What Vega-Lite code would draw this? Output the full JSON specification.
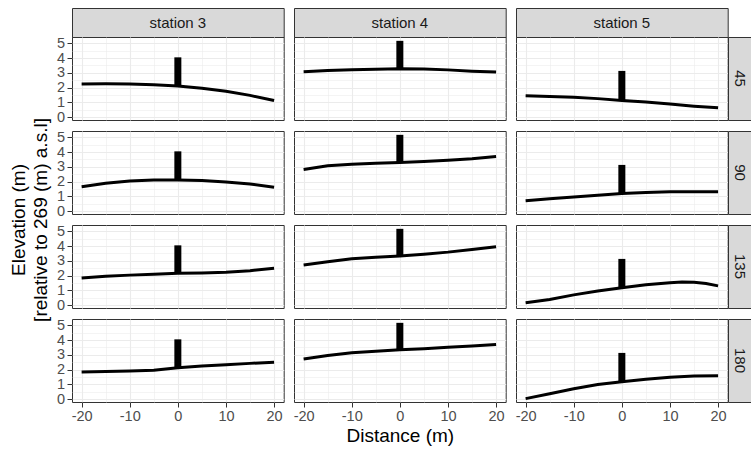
{
  "$schema": "https://vega.github.io/schema/vega-lite/v6.json",
  "padding": {"left": 8, "top": 7, "right": 0, "bottom": 0},
  "background": "#FFFFFF",
  "config": {
    "font": "Liberation Sans",
    "view": {"stroke": "#333333", "strokeWidth": 1},
    "axis": {
      "grid": true, "gridColor": "#EBEBEB", "domain": false,
      "tickColor": "#333333", "tickSize": 5, "tickWidth": 1,
      "labelColor": "#4D4D4D", "labelFontSize": 14.5, "labelPadding": 2.5,
      "labelFlush": false,
      "titleFontSize": 19, "titleFontWeight": "normal", "titleColor": "#000000", "titlePadding": 3
    }
  },
  "datasets": {
    "profiles": [
      {"station": "station 3", "angle": 45, "dist": -20, "elev": 2.25},
      {"station": "station 3", "angle": 45, "dist": -15, "elev": 2.26},
      {"station": "station 3", "angle": 45, "dist": -10, "elev": 2.24},
      {"station": "station 3", "angle": 45, "dist": -5, "elev": 2.19},
      {"station": "station 3", "angle": 45, "dist": 0, "elev": 2.11},
      {"station": "station 3", "angle": 45, "dist": 5, "elev": 1.96},
      {"station": "station 3", "angle": 45, "dist": 10, "elev": 1.75},
      {"station": "station 3", "angle": 45, "dist": 15, "elev": 1.47},
      {"station": "station 3", "angle": 45, "dist": 20, "elev": 1.12},
      {"station": "station 4", "angle": 45, "dist": -20, "elev": 3.07},
      {"station": "station 4", "angle": 45, "dist": -15, "elev": 3.16},
      {"station": "station 4", "angle": 45, "dist": -10, "elev": 3.21},
      {"station": "station 4", "angle": 45, "dist": -5, "elev": 3.25},
      {"station": "station 4", "angle": 45, "dist": 0, "elev": 3.28},
      {"station": "station 4", "angle": 45, "dist": 5, "elev": 3.26},
      {"station": "station 4", "angle": 45, "dist": 10, "elev": 3.2},
      {"station": "station 4", "angle": 45, "dist": 15, "elev": 3.11},
      {"station": "station 4", "angle": 45, "dist": 20, "elev": 3.05},
      {"station": "station 5", "angle": 45, "dist": -20, "elev": 1.44},
      {"station": "station 5", "angle": 45, "dist": -15, "elev": 1.39},
      {"station": "station 5", "angle": 45, "dist": -10, "elev": 1.34},
      {"station": "station 5", "angle": 45, "dist": -5, "elev": 1.25},
      {"station": "station 5", "angle": 45, "dist": 0, "elev": 1.12},
      {"station": "station 5", "angle": 45, "dist": 5, "elev": 1.02},
      {"station": "station 5", "angle": 45, "dist": 10, "elev": 0.88},
      {"station": "station 5", "angle": 45, "dist": 15, "elev": 0.74},
      {"station": "station 5", "angle": 45, "dist": 20, "elev": 0.63},
      {"station": "station 3", "angle": 90, "dist": -20, "elev": 1.65},
      {"station": "station 3", "angle": 90, "dist": -15, "elev": 1.88},
      {"station": "station 3", "angle": 90, "dist": -10, "elev": 2.04},
      {"station": "station 3", "angle": 90, "dist": -5, "elev": 2.11},
      {"station": "station 3", "angle": 90, "dist": 0, "elev": 2.11},
      {"station": "station 3", "angle": 90, "dist": 5, "elev": 2.07},
      {"station": "station 3", "angle": 90, "dist": 10, "elev": 1.97},
      {"station": "station 3", "angle": 90, "dist": 15, "elev": 1.84},
      {"station": "station 3", "angle": 90, "dist": 20, "elev": 1.62},
      {"station": "station 4", "angle": 90, "dist": -20, "elev": 2.82},
      {"station": "station 4", "angle": 90, "dist": -15, "elev": 3.07},
      {"station": "station 4", "angle": 90, "dist": -10, "elev": 3.18},
      {"station": "station 4", "angle": 90, "dist": -5, "elev": 3.24},
      {"station": "station 4", "angle": 90, "dist": 0, "elev": 3.3},
      {"station": "station 4", "angle": 90, "dist": 5, "elev": 3.36},
      {"station": "station 4", "angle": 90, "dist": 10, "elev": 3.45},
      {"station": "station 4", "angle": 90, "dist": 15, "elev": 3.54},
      {"station": "station 4", "angle": 90, "dist": 20, "elev": 3.7},
      {"station": "station 5", "angle": 90, "dist": -20, "elev": 0.7},
      {"station": "station 5", "angle": 90, "dist": -15, "elev": 0.84},
      {"station": "station 5", "angle": 90, "dist": -10, "elev": 0.96},
      {"station": "station 5", "angle": 90, "dist": -5, "elev": 1.08},
      {"station": "station 5", "angle": 90, "dist": 0, "elev": 1.19},
      {"station": "station 5", "angle": 90, "dist": 5, "elev": 1.26},
      {"station": "station 5", "angle": 90, "dist": 10, "elev": 1.31},
      {"station": "station 5", "angle": 90, "dist": 15, "elev": 1.31},
      {"station": "station 5", "angle": 90, "dist": 20, "elev": 1.31},
      {"station": "station 3", "angle": 135, "dist": -20, "elev": 1.83},
      {"station": "station 3", "angle": 135, "dist": -15, "elev": 1.95},
      {"station": "station 3", "angle": 135, "dist": -10, "elev": 2.03},
      {"station": "station 3", "angle": 135, "dist": -5, "elev": 2.09},
      {"station": "station 3", "angle": 135, "dist": 0, "elev": 2.15},
      {"station": "station 3", "angle": 135, "dist": 5, "elev": 2.18},
      {"station": "station 3", "angle": 135, "dist": 10, "elev": 2.23},
      {"station": "station 3", "angle": 135, "dist": 15, "elev": 2.33},
      {"station": "station 3", "angle": 135, "dist": 20, "elev": 2.5},
      {"station": "station 4", "angle": 135, "dist": -20, "elev": 2.72},
      {"station": "station 4", "angle": 135, "dist": -15, "elev": 2.93},
      {"station": "station 4", "angle": 135, "dist": -10, "elev": 3.14},
      {"station": "station 4", "angle": 135, "dist": -5, "elev": 3.24},
      {"station": "station 4", "angle": 135, "dist": 0, "elev": 3.33},
      {"station": "station 4", "angle": 135, "dist": 5, "elev": 3.45},
      {"station": "station 4", "angle": 135, "dist": 10, "elev": 3.59},
      {"station": "station 4", "angle": 135, "dist": 15, "elev": 3.77},
      {"station": "station 4", "angle": 135, "dist": 20, "elev": 3.96},
      {"station": "station 5", "angle": 135, "dist": -20, "elev": 0.16},
      {"station": "station 5", "angle": 135, "dist": -15, "elev": 0.38},
      {"station": "station 5", "angle": 135, "dist": -10, "elev": 0.69},
      {"station": "station 5", "angle": 135, "dist": -5, "elev": 0.95},
      {"station": "station 5", "angle": 135, "dist": 0, "elev": 1.17},
      {"station": "station 5", "angle": 135, "dist": 5, "elev": 1.37},
      {"station": "station 5", "angle": 135, "dist": 10, "elev": 1.52},
      {"station": "station 5", "angle": 135, "dist": 12.5, "elev": 1.56},
      {"station": "station 5", "angle": 135, "dist": 15, "elev": 1.54},
      {"station": "station 5", "angle": 135, "dist": 17.5, "elev": 1.46},
      {"station": "station 5", "angle": 135, "dist": 20, "elev": 1.3},
      {"station": "station 3", "angle": 180, "dist": -20, "elev": 1.83},
      {"station": "station 3", "angle": 180, "dist": -15, "elev": 1.87},
      {"station": "station 3", "angle": 180, "dist": -10, "elev": 1.9},
      {"station": "station 3", "angle": 180, "dist": -5, "elev": 1.96},
      {"station": "station 3", "angle": 180, "dist": 0, "elev": 2.13},
      {"station": "station 3", "angle": 180, "dist": 5, "elev": 2.24},
      {"station": "station 3", "angle": 180, "dist": 10, "elev": 2.33},
      {"station": "station 3", "angle": 180, "dist": 15, "elev": 2.42},
      {"station": "station 3", "angle": 180, "dist": 20, "elev": 2.5},
      {"station": "station 4", "angle": 180, "dist": -20, "elev": 2.72},
      {"station": "station 4", "angle": 180, "dist": -15, "elev": 2.95},
      {"station": "station 4", "angle": 180, "dist": -10, "elev": 3.14},
      {"station": "station 4", "angle": 180, "dist": -5, "elev": 3.24},
      {"station": "station 4", "angle": 180, "dist": 0, "elev": 3.35},
      {"station": "station 4", "angle": 180, "dist": 5, "elev": 3.42},
      {"station": "station 4", "angle": 180, "dist": 10, "elev": 3.51},
      {"station": "station 4", "angle": 180, "dist": 15, "elev": 3.6},
      {"station": "station 4", "angle": 180, "dist": 20, "elev": 3.7},
      {"station": "station 5", "angle": 180, "dist": -20, "elev": 0.03},
      {"station": "station 5", "angle": 180, "dist": -15, "elev": 0.36},
      {"station": "station 5", "angle": 180, "dist": -10, "elev": 0.7},
      {"station": "station 5", "angle": 180, "dist": -5, "elev": 0.98},
      {"station": "station 5", "angle": 180, "dist": 0, "elev": 1.17},
      {"station": "station 5", "angle": 180, "dist": 5, "elev": 1.35},
      {"station": "station 5", "angle": 180, "dist": 10, "elev": 1.48},
      {"station": "station 5", "angle": 180, "dist": 15, "elev": 1.57},
      {"station": "station 5", "angle": 180, "dist": 20, "elev": 1.58},
      {"station": "station 3", "angle": 45, "dist": 0, "elev": 2.11, "top": 4.05},
      {"station": "station 4", "angle": 45, "dist": 0, "elev": 3.28, "top": 5.17},
      {"station": "station 5", "angle": 45, "dist": 0, "elev": 1.12, "top": 3.13},
      {"station": "station 3", "angle": 90, "dist": 0, "elev": 2.11, "top": 4.05},
      {"station": "station 4", "angle": 90, "dist": 0, "elev": 3.3, "top": 5.17},
      {"station": "station 5", "angle": 90, "dist": 0, "elev": 1.19, "top": 3.13},
      {"station": "station 3", "angle": 135, "dist": 0, "elev": 2.15, "top": 4.05},
      {"station": "station 4", "angle": 135, "dist": 0, "elev": 3.33, "top": 5.17},
      {"station": "station 5", "angle": 135, "dist": 0, "elev": 1.17, "top": 3.13},
      {"station": "station 3", "angle": 180, "dist": 0, "elev": 2.13, "top": 4.05},
      {"station": "station 4", "angle": 180, "dist": 0, "elev": 3.35, "top": 5.17},
      {"station": "station 5", "angle": 180, "dist": 0, "elev": 1.17, "top": 3.13}
    ]
  },
  "columns": 6,
  "spacing": 0,
  "bounds": "flush",
  "concat": [
    {"width": 211.7, "height": 29, "data": {"values": [{"label": "station 3"}]}, "view": {"fill": "#D9D9D9", "stroke": "#333333"}, "mark": {"type": "text", "fontSize": 15, "color": "#1A1A1A"}, "encoding": {"text": {"field": "label"}}},
    {"width": 10, "height": 11, "data": {"values": []}, "mark": "text", "view": {"stroke": null}},
    {"width": 211.7, "height": 29, "data": {"values": [{"label": "station 4"}]}, "view": {"fill": "#D9D9D9", "stroke": "#333333"}, "mark": {"type": "text", "fontSize": 15, "color": "#1A1A1A"}, "encoding": {"text": {"field": "label"}}},
    {"width": 10, "height": 11, "data": {"values": []}, "mark": "text", "view": {"stroke": null}},
    {"width": 211.7, "height": 29, "data": {"values": [{"label": "station 5"}]}, "view": {"fill": "#D9D9D9", "stroke": "#333333"}, "mark": {"type": "text", "fontSize": 15, "color": "#1A1A1A"}, "encoding": {"text": {"field": "label"}}},
    {"width": 10, "height": 11, "data": {"values": []}, "mark": "text", "view": {"stroke": null}},

    {"width": 211.7, "height": 83, "data": {"name": "profiles"}, "transform": [{"filter": "datum.station === 'station 3' && datum.angle === 45"}],
     "encoding": {"x": {"field": "dist", "type": "quantitative", "scale": {"domain": [-22, 22], "nice": false, "zero": false}, "axis": {"values": [-20, -15, -10, -5, 0, 5, 10, 15, 20], "title": null, "labels": false, "ticks": false, "gridWidth": {"condition": {"test": "datum.value % 10 !== 0", "value": 0.55}, "value": 1.1}}},
                  "y": {"field": "elev", "type": "quantitative", "scale": {"domain": [-0.2, 5.43], "nice": false, "zero": false}, "axis": {"values": [0, 0.5, 1, 1.5, 2, 2.5, 3, 3.5, 4, 4.5, 5], "title": null, "labelOverlap": false, "labelExpr": "datum.value % 1 === 0 ? '' + datum.value : ''", "labelFontSize": {"condition": {"test": "datum.value % 1 !== 0", "value": 0}, "value": 14.5}, "tickOpacity": {"condition": {"test": "datum.value % 1 !== 0", "value": 0}, "value": 1}, "gridWidth": {"condition": {"test": "datum.value % 1 !== 0", "value": 0.55}, "value": 1.1}}}},
     "layer": [
      {"transform": [{"filter": "datum.top == null"}], "mark": {"type": "line", "color": "#000000", "strokeWidth": 3}},
      {"transform": [{"filter": "datum.top != null"}], "mark": {"type": "rule", "color": "#000000", "strokeWidth": 7}, "encoding": {"y2": {"field": "top"}}}
    ]},
    {"width": 10, "height": 11, "data": {"values": []}, "mark": "text", "view": {"stroke": null}},
    {"width": 211.7, "height": 83, "data": {"name": "profiles"}, "transform": [{"filter": "datum.station === 'station 4' && datum.angle === 45"}],
     "encoding": {"x": {"field": "dist", "type": "quantitative", "scale": {"domain": [-22, 22], "nice": false, "zero": false}, "axis": {"values": [-20, -15, -10, -5, 0, 5, 10, 15, 20], "title": null, "labels": false, "ticks": false, "gridWidth": {"condition": {"test": "datum.value % 10 !== 0", "value": 0.55}, "value": 1.1}}},
                  "y": {"field": "elev", "type": "quantitative", "scale": {"domain": [-0.2, 5.43], "nice": false, "zero": false}, "axis": {"values": [0, 0.5, 1, 1.5, 2, 2.5, 3, 3.5, 4, 4.5, 5], "title": null, "labels": false, "ticks": false, "gridWidth": {"condition": {"test": "datum.value % 1 !== 0", "value": 0.55}, "value": 1.1}}}},
     "layer": [
      {"transform": [{"filter": "datum.top == null"}], "mark": {"type": "line", "color": "#000000", "strokeWidth": 3}},
      {"transform": [{"filter": "datum.top != null"}], "mark": {"type": "rule", "color": "#000000", "strokeWidth": 7}, "encoding": {"y2": {"field": "top"}}}
    ]},
    {"width": 10, "height": 11, "data": {"values": []}, "mark": "text", "view": {"stroke": null}},
    {"width": 211.7, "height": 83, "data": {"name": "profiles"}, "transform": [{"filter": "datum.station === 'station 5' && datum.angle === 45"}],
     "encoding": {"x": {"field": "dist", "type": "quantitative", "scale": {"domain": [-22, 22], "nice": false, "zero": false}, "axis": {"values": [-20, -15, -10, -5, 0, 5, 10, 15, 20], "title": null, "labels": false, "ticks": false, "gridWidth": {"condition": {"test": "datum.value % 10 !== 0", "value": 0.55}, "value": 1.1}}},
                  "y": {"field": "elev", "type": "quantitative", "scale": {"domain": [-0.2, 5.43], "nice": false, "zero": false}, "axis": {"values": [0, 0.5, 1, 1.5, 2, 2.5, 3, 3.5, 4, 4.5, 5], "title": null, "labels": false, "ticks": false, "gridWidth": {"condition": {"test": "datum.value % 1 !== 0", "value": 0.55}, "value": 1.1}}}},
     "layer": [
      {"transform": [{"filter": "datum.top == null"}], "mark": {"type": "line", "color": "#000000", "strokeWidth": 3}},
      {"transform": [{"filter": "datum.top != null"}], "mark": {"type": "rule", "color": "#000000", "strokeWidth": 7}, "encoding": {"y2": {"field": "top"}}}
    ]},
    {"width": 23, "height": 83, "data": {"values": [{"label": "45"}]}, "view": {"fill": "#D9D9D9", "stroke": "#333333"}, "mark": {"type": "text", "fontSize": 15, "color": "#1A1A1A", "angle": 90}, "encoding": {"text": {"field": "label"}}},

    {"width": 10, "height": 11, "data": {"values": []}, "mark": "text", "view": {"stroke": null}},
    {"width": 10, "height": 11, "data": {"values": []}, "mark": "text", "view": {"stroke": null}},
    {"width": 10, "height": 11, "data": {"values": []}, "mark": "text", "view": {"stroke": null}},
    {"width": 10, "height": 11, "data": {"values": []}, "mark": "text", "view": {"stroke": null}},
    {"width": 10, "height": 11, "data": {"values": []}, "mark": "text", "view": {"stroke": null}},
    {"width": 10, "height": 11, "data": {"values": []}, "mark": "text", "view": {"stroke": null}},

    {"width": 211.7, "height": 83, "data": {"name": "profiles"}, "transform": [{"filter": "datum.station === 'station 3' && datum.angle === 90"}],
     "encoding": {"x": {"field": "dist", "type": "quantitative", "scale": {"domain": [-22, 22], "nice": false, "zero": false}, "axis": {"values": [-20, -15, -10, -5, 0, 5, 10, 15, 20], "title": null, "labels": false, "ticks": false, "gridWidth": {"condition": {"test": "datum.value % 10 !== 0", "value": 0.55}, "value": 1.1}}},
                  "y": {"field": "elev", "type": "quantitative", "scale": {"domain": [-0.2, 5.43], "nice": false, "zero": false}, "axis": {"values": [0, 0.5, 1, 1.5, 2, 2.5, 3, 3.5, 4, 4.5, 5], "title": null, "labelOverlap": false, "labelExpr": "datum.value % 1 === 0 ? '' + datum.value : ''", "labelFontSize": {"condition": {"test": "datum.value % 1 !== 0", "value": 0}, "value": 14.5}, "tickOpacity": {"condition": {"test": "datum.value % 1 !== 0", "value": 0}, "value": 1}, "gridWidth": {"condition": {"test": "datum.value % 1 !== 0", "value": 0.55}, "value": 1.1}}}},
     "layer": [
      {"transform": [{"filter": "datum.top == null"}], "mark": {"type": "line", "color": "#000000", "strokeWidth": 3}},
      {"transform": [{"filter": "datum.top != null"}], "mark": {"type": "rule", "color": "#000000", "strokeWidth": 7}, "encoding": {"y2": {"field": "top"}}}
    ]},
    {"width": 10, "height": 11, "data": {"values": []}, "mark": "text", "view": {"stroke": null}},
    {"width": 211.7, "height": 83, "data": {"name": "profiles"}, "transform": [{"filter": "datum.station === 'station 4' && datum.angle === 90"}],
     "encoding": {"x": {"field": "dist", "type": "quantitative", "scale": {"domain": [-22, 22], "nice": false, "zero": false}, "axis": {"values": [-20, -15, -10, -5, 0, 5, 10, 15, 20], "title": null, "labels": false, "ticks": false, "gridWidth": {"condition": {"test": "datum.value % 10 !== 0", "value": 0.55}, "value": 1.1}}},
                  "y": {"field": "elev", "type": "quantitative", "scale": {"domain": [-0.2, 5.43], "nice": false, "zero": false}, "axis": {"values": [0, 0.5, 1, 1.5, 2, 2.5, 3, 3.5, 4, 4.5, 5], "title": null, "labels": false, "ticks": false, "gridWidth": {"condition": {"test": "datum.value % 1 !== 0", "value": 0.55}, "value": 1.1}}}},
     "layer": [
      {"transform": [{"filter": "datum.top == null"}], "mark": {"type": "line", "color": "#000000", "strokeWidth": 3}},
      {"transform": [{"filter": "datum.top != null"}], "mark": {"type": "rule", "color": "#000000", "strokeWidth": 7}, "encoding": {"y2": {"field": "top"}}}
    ]},
    {"width": 10, "height": 11, "data": {"values": []}, "mark": "text", "view": {"stroke": null}},
    {"width": 211.7, "height": 83, "data": {"name": "profiles"}, "transform": [{"filter": "datum.station === 'station 5' && datum.angle === 90"}],
     "encoding": {"x": {"field": "dist", "type": "quantitative", "scale": {"domain": [-22, 22], "nice": false, "zero": false}, "axis": {"values": [-20, -15, -10, -5, 0, 5, 10, 15, 20], "title": null, "labels": false, "ticks": false, "gridWidth": {"condition": {"test": "datum.value % 10 !== 0", "value": 0.55}, "value": 1.1}}},
                  "y": {"field": "elev", "type": "quantitative", "scale": {"domain": [-0.2, 5.43], "nice": false, "zero": false}, "axis": {"values": [0, 0.5, 1, 1.5, 2, 2.5, 3, 3.5, 4, 4.5, 5], "title": null, "labels": false, "ticks": false, "gridWidth": {"condition": {"test": "datum.value % 1 !== 0", "value": 0.55}, "value": 1.1}}}},
     "layer": [
      {"transform": [{"filter": "datum.top == null"}], "mark": {"type": "line", "color": "#000000", "strokeWidth": 3}},
      {"transform": [{"filter": "datum.top != null"}], "mark": {"type": "rule", "color": "#000000", "strokeWidth": 7}, "encoding": {"y2": {"field": "top"}}}
    ]},
    {"width": 23, "height": 83, "data": {"values": [{"label": "90"}]}, "view": {"fill": "#D9D9D9", "stroke": "#333333"}, "mark": {"type": "text", "fontSize": 15, "color": "#1A1A1A", "angle": 90}, "encoding": {"text": {"field": "label"}}},

    {"width": 10, "height": 11, "data": {"values": []}, "mark": "text", "view": {"stroke": null},
     "encoding": {"y": {"datum": 0, "type": "quantitative", "scale": {"domain": [0, 1]}, "axis": {"title": ["Elevation (m)", "[relative to 269 (m) a.s.l]"], "labels": false, "ticks": false, "grid": false, "domain": false, "titlePadding": 22, "titleLineHeight": 22}}}},
    {"width": 10, "height": 11, "data": {"values": []}, "mark": "text", "view": {"stroke": null}},
    {"width": 10, "height": 11, "data": {"values": []}, "mark": "text", "view": {"stroke": null}},
    {"width": 10, "height": 11, "data": {"values": []}, "mark": "text", "view": {"stroke": null}},
    {"width": 10, "height": 11, "data": {"values": []}, "mark": "text", "view": {"stroke": null}},
    {"width": 10, "height": 11, "data": {"values": []}, "mark": "text", "view": {"stroke": null}},

    {"width": 211.7, "height": 83, "data": {"name": "profiles"}, "transform": [{"filter": "datum.station === 'station 3' && datum.angle === 135"}],
     "encoding": {"x": {"field": "dist", "type": "quantitative", "scale": {"domain": [-22, 22], "nice": false, "zero": false}, "axis": {"values": [-20, -15, -10, -5, 0, 5, 10, 15, 20], "title": null, "labels": false, "ticks": false, "gridWidth": {"condition": {"test": "datum.value % 10 !== 0", "value": 0.55}, "value": 1.1}}},
                  "y": {"field": "elev", "type": "quantitative", "scale": {"domain": [-0.2, 5.43], "nice": false, "zero": false}, "axis": {"values": [0, 0.5, 1, 1.5, 2, 2.5, 3, 3.5, 4, 4.5, 5], "title": null, "labelOverlap": false, "labelExpr": "datum.value % 1 === 0 ? '' + datum.value : ''", "labelFontSize": {"condition": {"test": "datum.value % 1 !== 0", "value": 0}, "value": 14.5}, "tickOpacity": {"condition": {"test": "datum.value % 1 !== 0", "value": 0}, "value": 1}, "gridWidth": {"condition": {"test": "datum.value % 1 !== 0", "value": 0.55}, "value": 1.1}}}},
     "layer": [
      {"transform": [{"filter": "datum.top == null"}], "mark": {"type": "line", "color": "#000000", "strokeWidth": 3}},
      {"transform": [{"filter": "datum.top != null"}], "mark": {"type": "rule", "color": "#000000", "strokeWidth": 7}, "encoding": {"y2": {"field": "top"}}}
    ]},
    {"width": 10, "height": 11, "data": {"values": []}, "mark": "text", "view": {"stroke": null}},
    {"width": 211.7, "height": 83, "data": {"name": "profiles"}, "transform": [{"filter": "datum.station === 'station 4' && datum.angle === 135"}],
     "encoding": {"x": {"field": "dist", "type": "quantitative", "scale": {"domain": [-22, 22], "nice": false, "zero": false}, "axis": {"values": [-20, -15, -10, -5, 0, 5, 10, 15, 20], "title": null, "labels": false, "ticks": false, "gridWidth": {"condition": {"test": "datum.value % 10 !== 0", "value": 0.55}, "value": 1.1}}},
                  "y": {"field": "elev", "type": "quantitative", "scale": {"domain": [-0.2, 5.43], "nice": false, "zero": false}, "axis": {"values": [0, 0.5, 1, 1.5, 2, 2.5, 3, 3.5, 4, 4.5, 5], "title": null, "labels": false, "ticks": false, "gridWidth": {"condition": {"test": "datum.value % 1 !== 0", "value": 0.55}, "value": 1.1}}}},
     "layer": [
      {"transform": [{"filter": "datum.top == null"}], "mark": {"type": "line", "color": "#000000", "strokeWidth": 3}},
      {"transform": [{"filter": "datum.top != null"}], "mark": {"type": "rule", "color": "#000000", "strokeWidth": 7}, "encoding": {"y2": {"field": "top"}}}
    ]},
    {"width": 10, "height": 11, "data": {"values": []}, "mark": "text", "view": {"stroke": null}},
    {"width": 211.7, "height": 83, "data": {"name": "profiles"}, "transform": [{"filter": "datum.station === 'station 5' && datum.angle === 135"}],
     "encoding": {"x": {"field": "dist", "type": "quantitative", "scale": {"domain": [-22, 22], "nice": false, "zero": false}, "axis": {"values": [-20, -15, -10, -5, 0, 5, 10, 15, 20], "title": null, "labels": false, "ticks": false, "gridWidth": {"condition": {"test": "datum.value % 10 !== 0", "value": 0.55}, "value": 1.1}}},
                  "y": {"field": "elev", "type": "quantitative", "scale": {"domain": [-0.2, 5.43], "nice": false, "zero": false}, "axis": {"values": [0, 0.5, 1, 1.5, 2, 2.5, 3, 3.5, 4, 4.5, 5], "title": null, "labels": false, "ticks": false, "gridWidth": {"condition": {"test": "datum.value % 1 !== 0", "value": 0.55}, "value": 1.1}}}},
     "layer": [
      {"transform": [{"filter": "datum.top == null"}], "mark": {"type": "line", "color": "#000000", "strokeWidth": 3}},
      {"transform": [{"filter": "datum.top != null"}], "mark": {"type": "rule", "color": "#000000", "strokeWidth": 7}, "encoding": {"y2": {"field": "top"}}}
    ]},
    {"width": 23, "height": 83, "data": {"values": [{"label": "135"}]}, "view": {"fill": "#D9D9D9", "stroke": "#333333"}, "mark": {"type": "text", "fontSize": 15, "color": "#1A1A1A", "angle": 90}, "encoding": {"text": {"field": "label"}}},

    {"width": 10, "height": 11, "data": {"values": []}, "mark": "text", "view": {"stroke": null}},
    {"width": 10, "height": 11, "data": {"values": []}, "mark": "text", "view": {"stroke": null}},
    {"width": 10, "height": 11, "data": {"values": []}, "mark": "text", "view": {"stroke": null}},
    {"width": 10, "height": 11, "data": {"values": []}, "mark": "text", "view": {"stroke": null}},
    {"width": 10, "height": 11, "data": {"values": []}, "mark": "text", "view": {"stroke": null}},
    {"width": 10, "height": 11, "data": {"values": []}, "mark": "text", "view": {"stroke": null}},

    {"width": 211.7, "height": 83, "data": {"name": "profiles"}, "transform": [{"filter": "datum.station === 'station 3' && datum.angle === 180"}],
     "encoding": {"x": {"field": "dist", "type": "quantitative", "scale": {"domain": [-22, 22], "nice": false, "zero": false}, "axis": {"values": [-20, -15, -10, -5, 0, 5, 10, 15, 20], "title": null, "labelOverlap": false, "labelExpr": "datum.value % 10 === 0 ? '' + datum.value : ''", "labelFontSize": {"condition": {"test": "datum.value % 10 !== 0", "value": 0}, "value": 14.5}, "tickOpacity": {"condition": {"test": "datum.value % 10 !== 0", "value": 0}, "value": 1}, "gridWidth": {"condition": {"test": "datum.value % 10 !== 0", "value": 0.55}, "value": 1.1}}},
                  "y": {"field": "elev", "type": "quantitative", "scale": {"domain": [-0.2, 5.43], "nice": false, "zero": false}, "axis": {"values": [0, 0.5, 1, 1.5, 2, 2.5, 3, 3.5, 4, 4.5, 5], "title": null, "labelOverlap": false, "labelExpr": "datum.value % 1 === 0 ? '' + datum.value : ''", "labelFontSize": {"condition": {"test": "datum.value % 1 !== 0", "value": 0}, "value": 14.5}, "tickOpacity": {"condition": {"test": "datum.value % 1 !== 0", "value": 0}, "value": 1}, "gridWidth": {"condition": {"test": "datum.value % 1 !== 0", "value": 0.55}, "value": 1.1}}}},
     "layer": [
      {"transform": [{"filter": "datum.top == null"}], "mark": {"type": "line", "color": "#000000", "strokeWidth": 3}},
      {"transform": [{"filter": "datum.top != null"}], "mark": {"type": "rule", "color": "#000000", "strokeWidth": 7}, "encoding": {"y2": {"field": "top"}}}
    ]},
    {"width": 10, "height": 11, "data": {"values": []}, "mark": "text", "view": {"stroke": null}},
    {"width": 211.7, "height": 83, "data": {"name": "profiles"}, "transform": [{"filter": "datum.station === 'station 4' && datum.angle === 180"}],
     "encoding": {"x": {"field": "dist", "type": "quantitative", "scale": {"domain": [-22, 22], "nice": false, "zero": false}, "axis": {"values": [-20, -15, -10, -5, 0, 5, 10, 15, 20], "title": "Distance (m)", "labelOverlap": false, "labelExpr": "datum.value % 10 === 0 ? '' + datum.value : ''", "labelFontSize": {"condition": {"test": "datum.value % 10 !== 0", "value": 0}, "value": 14.5}, "tickOpacity": {"condition": {"test": "datum.value % 10 !== 0", "value": 0}, "value": 1}, "gridWidth": {"condition": {"test": "datum.value % 10 !== 0", "value": 0.55}, "value": 1.1}}},
                  "y": {"field": "elev", "type": "quantitative", "scale": {"domain": [-0.2, 5.43], "nice": false, "zero": false}, "axis": {"values": [0, 0.5, 1, 1.5, 2, 2.5, 3, 3.5, 4, 4.5, 5], "title": null, "labels": false, "ticks": false, "gridWidth": {"condition": {"test": "datum.value % 1 !== 0", "value": 0.55}, "value": 1.1}}}},
     "layer": [
      {"transform": [{"filter": "datum.top == null"}], "mark": {"type": "line", "color": "#000000", "strokeWidth": 3}},
      {"transform": [{"filter": "datum.top != null"}], "mark": {"type": "rule", "color": "#000000", "strokeWidth": 7}, "encoding": {"y2": {"field": "top"}}}
    ]},
    {"width": 10, "height": 11, "data": {"values": []}, "mark": "text", "view": {"stroke": null}},
    {"width": 211.7, "height": 83, "data": {"name": "profiles"}, "transform": [{"filter": "datum.station === 'station 5' && datum.angle === 180"}],
     "encoding": {"x": {"field": "dist", "type": "quantitative", "scale": {"domain": [-22, 22], "nice": false, "zero": false}, "axis": {"values": [-20, -15, -10, -5, 0, 5, 10, 15, 20], "title": null, "labelOverlap": false, "labelExpr": "datum.value % 10 === 0 ? '' + datum.value : ''", "labelFontSize": {"condition": {"test": "datum.value % 10 !== 0", "value": 0}, "value": 14.5}, "tickOpacity": {"condition": {"test": "datum.value % 10 !== 0", "value": 0}, "value": 1}, "gridWidth": {"condition": {"test": "datum.value % 10 !== 0", "value": 0.55}, "value": 1.1}}},
                  "y": {"field": "elev", "type": "quantitative", "scale": {"domain": [-0.2, 5.43], "nice": false, "zero": false}, "axis": {"values": [0, 0.5, 1, 1.5, 2, 2.5, 3, 3.5, 4, 4.5, 5], "title": null, "labels": false, "ticks": false, "gridWidth": {"condition": {"test": "datum.value % 1 !== 0", "value": 0.55}, "value": 1.1}}}},
     "layer": [
      {"transform": [{"filter": "datum.top == null"}], "mark": {"type": "line", "color": "#000000", "strokeWidth": 3}},
      {"transform": [{"filter": "datum.top != null"}], "mark": {"type": "rule", "color": "#000000", "strokeWidth": 7}, "encoding": {"y2": {"field": "top"}}}
    ]},
    {"width": 23, "height": 83, "data": {"values": [{"label": "180"}]}, "view": {"fill": "#D9D9D9", "stroke": "#333333"}, "mark": {"type": "text", "fontSize": 15, "color": "#1A1A1A", "angle": 90}, "encoding": {"text": {"field": "label"}}}
  ]
}
